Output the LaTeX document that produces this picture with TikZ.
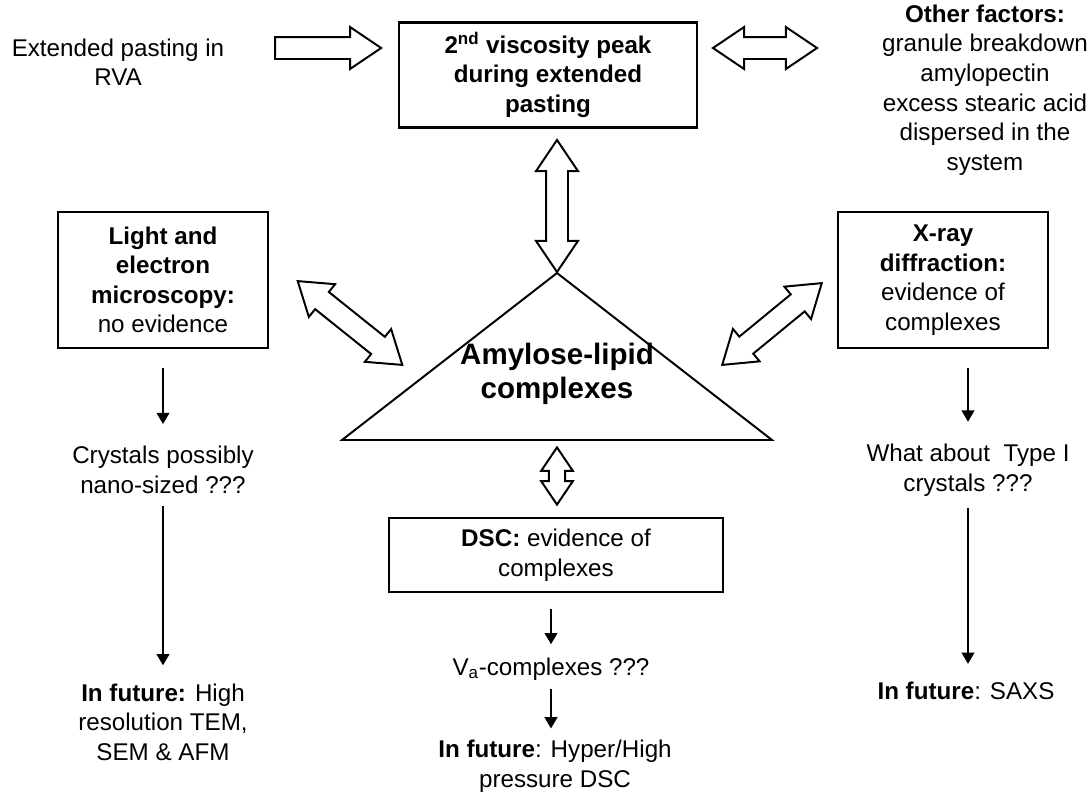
\documentclass[tikz,border=0pt]{standalone}
\usepackage{fontspec}
\setmainfont{Liberation Sans}
\usetikzlibrary{shapes.arrows,arrows.meta}

\begin{document}
\begin{tikzpicture}[x=0.025cm, y=-0.025cm,
    box/.style = {draw,
                  line width = 1.6pt,
                  align = center,
                  inner sep = 2pt,
                  font = \fontsize{17.2pt}{21pt}\selectfont},
    txt/.style = {align = center,
                  inner sep = 0pt,
                  font = \fontsize{17.2pt}{21pt}\selectfont},
    flow/.style = {-{Triangle[length=8pt,width=9pt]},
                   line width = 1.4pt},
    barrow/.style = {double arrow,
                     draw,
                     fill = white,
                     line width = 1.4pt,
                     inner xsep = 0pt,
                     inner ysep = 0.25cm,
                     double arrow head extend = 0.25cm,
                     double arrow tip angle = 68,
                     minimum height = #1},
    sarrow/.style = {single arrow,
                     draw,
                     fill = white,
                     line width = 1.4pt,
                     inner xsep = 0pt,
                     inner ysep = 0.25cm,
                     single arrow head extend = 0.25cm,
                     single arrow tip angle = 68,
                     minimum height = #1}]
    \useasboundingbox (0,0) rectangle (1088,798);

    % top row
    \node[txt] (rva) at (118,62) {Extended pasting in\\RVA};
    \node[box, minimum width=7.43cm, minimum height=2.63cm] (peak) at (548,75)
        {\textbf{2\textsuperscript{nd} viscosity peak}\\\textbf{during extended}\\\textbf{pasting}};
    \node[txt] (other) at (985,90)
        {\textbf{Other factors:}\\granule breakdown\\amylopectin\\excess stearic acid\\dispersed in the\\system};
    \node[sarrow=2.65cm] (pushin) at (320,48) {};
    \node[barrow=2.6cm] (linkf) at (765,48) {};

    % middle row
    \node[box, minimum width=5.25cm, minimum height=3.4cm] (lem) at (163,280)
        {\textbf{Light and}\\\textbf{electron}\\\textbf{microscopy:}\\no evidence};
    \node[box, minimum width=5.25cm, minimum height=3.4cm] (xray) at (943,280)
        {\textbf{X-ray}\\\textbf{diffraction:}\\evidence of\\complexes};
    \coordinate (tl) at (342,440);
    \coordinate (tr) at (772,440);
    \coordinate (tt) at (557,273);
    \draw[line width=1.4pt] (tl) -- (tr) -- (tt) -- cycle;
    \node[align=center, font=\fontsize{21pt}{24pt}\selectfont\bfseries] (alc) at (557,374)
        {Amylose-lipid\\complexes};
    \node[barrow=3.3cm, rotate=90] (linkp) at (557,206) {};
    \node[barrow=3.35cm, rotate=-38.7] (linkm) at (350,323) {};
    \node[barrow=3.22cm, rotate=39.4] (linkx) at (772,324) {};
    \node[barrow=1.43cm, rotate=90, inner ysep=0.18cm,
          double arrow head extend=0.19cm] (linkd) at (557,476) {};

    % lower part
    \node[box, minimum width=8.33cm, minimum height=1.85cm] (dsc) at (556,555)
        {\textbf{DSC:} evidence of\\complexes};
    \node[txt] (crystL) at (163,470) {Crystals possibly\\nano-sized ???};
    \node[txt] (futL) at (163,722) {\textbf{In future:} High\\resolution TEM,\\SEM \& AFM};
    \node[txt] (whatR) at (968,470) {What about\ \ Type I\\crystals ???};
    \node[txt] (futR) at (966,691) {\textbf{In future}: SAXS};
    \node[txt] (va) at (551,669) {V\textsubscript{a}-complexes ???};
    \node[txt] (futD) at (555,766) {\textbf{In future}: Hyper/High\\pressure DSC};

    \draw[flow, shorten <=0.48cm, shorten >=0.55cm] (lem) -- (crystL);
    \draw[flow, shorten <=0.3cm, shorten >=0.45cm] (crystL) -- (futL);
    \draw[flow, shorten <=0.48cm, shorten >=0.55cm] (xray.south -| whatR) -- (whatR);
    \draw[flow, shorten <=0.3cm, shorten >=0.45cm] (whatR) -- (whatR |- futR.north);
    \draw[flow, shorten <=0.4cm, shorten >=0.33cm] (dsc.south -| va) -- (va);
    \draw[flow, shorten <=0.2cm, shorten >=0.28cm] (va) -- (va |- futD.north);
\end{tikzpicture}
\end{document}
